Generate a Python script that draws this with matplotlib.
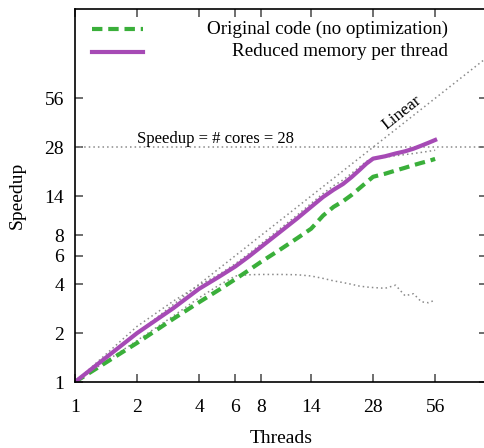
import numpy as np
import matplotlib.pyplot as plt
from matplotlib.ticker import FixedLocator, NullLocator

plt.rcParams['font.family'] = ['Liberation Serif', 'DejaVu Serif']

### thread counts and measured speedups
threads = [1, 2, 3, 4, 5, 6, 7, 8, 10, 12, 14, 16, 18, 20, 22, 24, 26, 28,
           32, 36, 40, 44, 48, 52, 56]
original = [1, 1.74, 2.45, 3.1, 3.7, 4.3, 4.9, 5.5, 6.6, 7.7, 8.8, 10.6, 12.0,
            13.0, 14.2, 15.6, 17.0, 18.4, 19.2, 20.1, 20.9, 21.7, 22.4, 23.0, 23.7]
reduced = [1, 2.0, 2.85, 3.75, 4.45, 5.15, 5.95, 6.8, 8.5, 10.2, 12.0, 13.8, 15.3,
           16.6, 18.3, 20.2, 22.2, 23.8, 24.6, 25.6, 26.4, 27.4, 28.6, 29.8, 31.0]
# reference runs, drawn thin and grey
ref_upper = [1, 2.2, 3.15, 3.95, 4.6, 5.35, 6.2, 7.1, 8.9, 10.7, 12.6, 14.5, 16.2,
             17.6, 19.3, 21.1, 22.9, 24.0, 24.3, 24.8, 25.2, 25.6, 26.0, 26.4, 26.8]
ref_lower = [1, 1.8, 2.55, 3.3, 3.95, 4.5, 4.58, 4.6, 4.6, 4.58, 4.5, 4.35, 4.2,
             4.1, 4.0, 3.9, 3.85, 3.82, 3.78, 3.95, 3.4, 3.5, 3.12, 3.08, 3.2]

ticks = [1, 2, 4, 6, 8, 14, 28, 56]
cores = 28

fig = plt.figure(figsize=(4.85, 4.48), dpi=100)
ax = fig.add_axes([75/485, 66/448, 412/485, 373.4/448])
ax.set_xscale('log', base=2)
ax.set_yscale('log', base=2)
ax.set_xlim(1, 100)
ax.set_ylim(1, 200)

grey = '#8a8a8a'
ax.plot([1, 200], [1, 200], ls=(0, (1, 2)), color=grey, lw=1.1)
ax.axhline(cores, ls=(0, (1, 2)), color=grey, lw=1.1)
ax.plot(threads, ref_lower, ls=(0, (1, 2)), color=grey, lw=1.1)
ax.plot(threads, ref_upper, ls=(0, (1, 2)), color=grey, lw=1.1)
ax.plot(threads, original, ls=(0, (2.5, 1.4)), color='#3aaf3a', lw=3)
ax.plot(threads, reduced, color='#a64ab5', lw=3)

ax.text(2, 31.3, 'Speedup = # cores = 28', fontsize=12, ha='left', va='center')
ax.text(38.7, 45.3, 'Linear', fontsize=12.5, ha='center', va='center', rotation=38.3,
        rotation_mode='anchor')

### key, drawn by hand so the labels sit flush right
ax.plot([0.041, 0.165], [0.945, 0.945], transform=ax.transAxes,
        ls=(0, (2.5, 1.4)), color='#3aaf3a', lw=3)
ax.plot([0.041, 0.165], [0.884, 0.884], transform=ax.transAxes,
        color='#a64ab5', lw=3)
ax.text(0.905, 0.945, 'Original code (no optimization)', transform=ax.transAxes,
        fontsize=13.7, ha='right', va='center')
ax.text(0.905, 0.884, 'Reduced memory per thread', transform=ax.transAxes,
        fontsize=13.7, ha='right', va='center')

for a in (ax.xaxis, ax.yaxis):
    a.set_major_locator(FixedLocator(ticks))
    a.set_minor_locator(NullLocator())
ax.set_xticklabels([str(t) for t in ticks])
ax.set_yticklabels([str(t) for t in ticks])
ax.tick_params(which='major', direction='in', length=6, width=1.2, color='#555555',
               top=True, right=True, labelsize=14)
ax.tick_params(axis='x', pad=12.5)
ax.tick_params(axis='y', pad=8)
for s in ax.spines.values():
    s.set_linewidth(1.2)

ax.set_xlabel('Threads', fontsize=14, labelpad=10)
ax.set_ylabel('Speedup', fontsize=14, labelpad=13)

plt.savefig('out.png')
